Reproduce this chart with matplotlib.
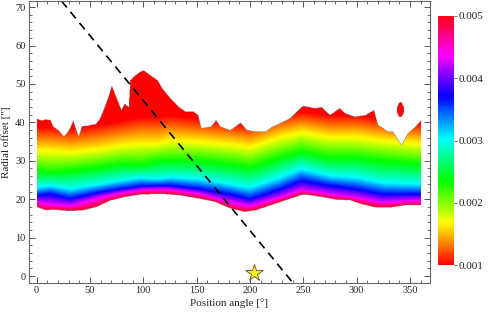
import numpy as np
import matplotlib
matplotlib.use('Agg')
import matplotlib.pyplot as plt

plt.rcParams['font.family'] = ['Liberation Serif', 'DejaVu Serif']

# outer (upper) edge of the map
outer_pa = [0, 4, 8, 12.5, 15, 20, 25, 30, 34, 36, 39, 42, 48, 55, 59, 62, 67, 70,
            74, 79, 82, 86, 87.5, 91, 97, 100, 106, 113, 117, 125, 132, 139, 147,
            151, 154, 163, 168, 172, 181, 191, 197, 205, 214, 221, 228, 237, 247,
            250, 261, 267, 275, 284, 289, 298, 308, 316, 320, 325, 329, 334, 339,
            342, 348, 355, 360]
outer_r = [40.9, 40.5, 40.8, 40.6, 38.9, 38.0, 36.3, 38.0, 40.4, 38.5, 36.3, 39.0,
           39.2, 39.6, 41.0, 43.0, 46.7, 49.5, 46.7, 43.2, 44.8, 44.0, 51.0, 52.0,
           53.2, 53.6, 52.3, 51.0, 49.0, 46.3, 44.3, 42.8, 42.8, 41.9, 38.5, 38.9,
           40.6, 38.9, 38.0, 39.9, 38.0, 37.6, 37.6, 38.9, 39.8, 41.0, 43.7, 44.3,
           43.7, 44.0, 41.9, 43.7, 42.4, 41.5, 41.9, 43.2, 39.3, 38.5, 37.6, 37.6,
           35.4, 34.1, 37.2, 38.9, 40.4]

# inner (lower) edge
inner_pa = [0, 4, 8, 15, 22, 31, 43, 55, 69, 83, 97, 116, 134, 153, 167, 181, 195,
            205, 219, 233, 247, 252, 266, 280, 294, 303, 317, 331, 345, 360]
inner_r = [18.0, 17.6, 17.2, 17.4, 17.2, 17.0, 17.2, 18.0, 19.8, 20.7, 21.3, 21.5,
           21.1, 20.2, 19.4, 17.7, 16.8, 17.2, 18.5, 19.8, 21.1, 21.3, 20.7, 20.0,
           19.8, 18.9, 18.0, 17.9, 18.5, 18.5]

# small detached patch near 340 deg
island_pa = [338, 339.5, 341, 342.5, 344]
island_lo = [42.5, 41.6, 41.4, 41.8, 42.5]
island_hi = [44.0, 45.0, 45.3, 45.0, 44.0]

# radii of the colour bands (magenta, blue, cyan, green, yellow, red)
band_pa = [0, 12, 31, 59, 78, 97, 113, 125, 153, 181, 200, 228, 248, 275, 300, 325, 360]
r_magenta = [19.3, 18.8, 18.4, 20.6, 21.7, 22.5, 22.7, 22.6, 21.5, 19.3, 18.4, 20.6,
             22.5, 21.4, 20.5, 19.3, 19.8]
r_blue = [21.1, 21.6, 20.3, 22.0, 22.8, 23.5, 23.7, 23.7, 22.8, 21.5, 20.2, 22.8,
          25.0, 23.7, 22.8, 21.5, 21.5]
r_cyan = [23.3, 23.7, 22.9, 24.1, 25.0, 25.8, 25.4, 25.9, 25.4, 24.1, 23.3, 25.9,
          28.2, 26.3, 25.9, 24.5, 24.1]
r_green = [27.6, 27.0, 27.6, 28.5, 29.3, 29.0, 30.2, 30.2, 30.2, 29.3, 28.5, 31.0,
           32.5, 31.0, 31.0, 30.2, 29.3]
r_yellow = [32.8, 32.8, 32.4, 33.2, 34.1, 34.6, 34.5, 35.4, 35.0, 34.5, 33.7, 36.3,
            37.5, 36.3, 36.3, 35.4, 34.5]
r_red = [39.0, 39.0, 38.5, 39.5, 40.5, 41.5, 41.5, 42.0, 41.0, 40.0, 39.5, 42.0,
         43.0, 42.0, 42.0, 41.0, 40.0]
band_values = [0.005, 0.00433, 0.00367, 0.003, 0.00233, 0.00167, 0.001]

cbar_ticks = [0.001, 0.002, 0.003, 0.004, 0.005]
star_pa, star_r = 204, 0.8
dash_pts = [(235.1, 0.0), (28.0, 70.0)]

# build the map on a fine grid
pa = np.arange(0, 360.01, 0.5)
rr = np.arange(10, 60, 0.1)
field = np.full((len(rr), len(pa)), np.nan)
for j, t in enumerate(pa):
    lev = [np.interp(t, inner_pa, inner_r)]
    for b in (r_magenta, r_blue, r_cyan, r_green, r_yellow, r_red):
        lev.append(np.interp(t, band_pa, b))
    lev = np.maximum.accumulate(np.array(lev) + np.arange(7) * 1e-3)
    col = np.interp(rr, lev, band_values)
    inside = (rr >= lev[0]) & (rr <= np.interp(t, outer_pa, outer_r))
    if island_pa[0] <= t <= island_pa[-1]:
        inside |= (rr >= np.interp(t, island_pa, island_lo)) & (rr <= np.interp(t, island_pa, island_hi))
    col[~inside] = np.nan
    field[:, j] = col

fig = plt.figure(figsize=(4.91, 3.13), dpi=100)
ax = fig.add_axes([0.059, 0.096, 0.817, 0.901])
im = ax.imshow(field, origin='lower', aspect='auto', cmap='hsv', vmin=0.001, vmax=0.005,
               extent=[pa[0], pa[-1], rr[0], rr[-1]], interpolation='bilinear')

ax.axline(dash_pts[0], dash_pts[1], color='black', lw=1.2, ls=(0, (5, 3.5)))
ax.plot(star_pa, star_r, marker='*', ms=13, mfc='#ffee11', mec='#555533', mew=0.6)

ax.set_xlim(-7.2, 369)
ax.set_ylim(-1.8, 71.6)
ax.set_xticks(np.arange(0, 351, 50))
ax.set_xticks(np.arange(-0, 361, 10), minor=True)
ax.set_yticks(np.arange(0, 71, 10))
ax.set_yticks(np.arange(0, 71, 2), minor=True)
ax.tick_params(which='both', direction='in', top=True, right=True, color='#555555',
               labelsize=7.5, labelcolor='#222222', pad=2.5)
ax.tick_params(which='major', length=4, width=0.7)
ax.tick_params(which='minor', length=2, width=0.6)
for s in ax.spines.values():
    s.set_color('#666666')
    s.set_linewidth(0.8)
ax.set_xlabel('Position angle [°]', fontsize=8, labelpad=2, color='#222222')
ax.set_ylabel('Radial offset ["]', fontsize=8, labelpad=3, color='#222222')

cax = fig.add_axes([0.892, 0.153, 0.033, 0.796])
cb = fig.colorbar(im, cax=cax, ticks=cbar_ticks)
cb.outline.set_visible(False)
cb.ax.set_yticklabels([f'{v:.3f}' for v in cbar_ticks])
cb.ax.tick_params(labelsize=8, length=2.5, width=0.6, color='#555555',
                  labelcolor='#222222', pad=1)

fig.savefig('out.png', dpi=100)
